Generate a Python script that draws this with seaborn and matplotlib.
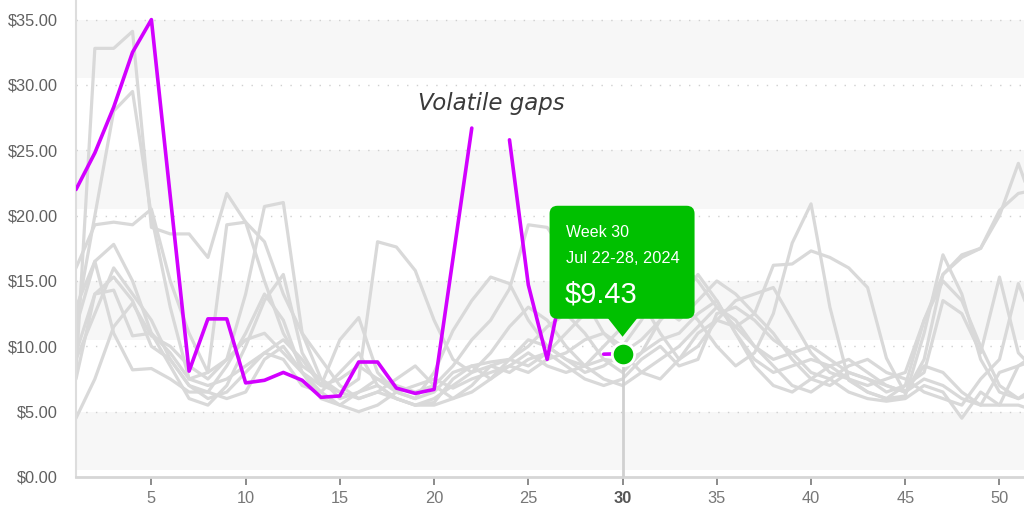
import numpy as np
import pandas as pd
import matplotlib
matplotlib.use("Agg")
import matplotlib.pyplot as plt
import seaborn as sns
from matplotlib.patches import FancyBboxPatch, Polygon
from matplotlib.transforms import IdentityTransform

# ---------------- data ----------------
weeks = list(range(1, 53))

current_year = [22.0, 24.8, 28.3, 32.5, 35.0, 21.5, 8.1, 12.1, 12.1, 7.2,
                7.4, 8.0, 7.4, 6.1, 6.2, 8.8, 8.8, 6.8, 6.4, 6.7,
                16.7, 26.7, np.nan, 25.8, 14.7, 9.0, 16.0, np.nan, 9.4, 9.43]

past_1 = [8.0, 32.8, 32.8, 34.1, 19.1, 18.6, 18.6, 16.8, 21.7, 19.5, 15.0, 11.0, 8.5,
          7.5, 6.0, 6.5, 7.5, 7.0, 6.5, 7.0, 8.5, 10.5, 12.0, 14.4, 19.3, 19.1,
          17.0, 13.5, 11.0, 10.0, 12.0, 14.5, 16.5, 15.0, 13.0, 11.5, 12.5, 16.2,
          16.3, 17.3, 16.8, 16.0, 14.5, 9.1, 6.4, 9.0, 15.5, 16.8, 17.5, 20.4, 21.7, 22.0]
past_2 = [12.0, 20.0, 28.0, 29.5, 20.0, 13.0, 7.5, 8.0, 19.3, 19.5, 18.0, 14.0, 11.0,
          9.0, 7.0, 6.0, 6.5, 6.0, 5.5, 5.7, 7.5, 8.5, 8.8, 9.0, 10.0, 11.5,
          12.5, 11.0, 9.0, 8.0, 9.5, 12.0, 13.5, 12.0, 10.0, 8.5, 9.5, 12.5,
          17.9, 20.9, 13.0, 7.4, 6.5, 6.0, 6.2, 11.0, 17.0, 14.0, 9.0, 6.5, 6.0, 7.0]
past_3 = [16.0, 19.3, 19.5, 19.3, 20.5, 15.0, 11.0, 8.0, 9.0, 14.0, 20.7, 21.0, 11.0,
          7.5, 6.5, 7.5, 18.0, 17.6, 15.8, 12.0, 9.0, 8.0, 8.5, 9.0, 8.5, 9.5,
          11.0, 12.5, 14.5, 16.0, 13.5, 11.0, 9.0, 10.0, 12.0, 13.5, 14.0, 14.5,
          12.0, 9.5, 8.0, 7.5, 7.0, 7.5, 8.0, 12.0, 15.0, 13.5, 10.0, 7.0, 6.0, 6.5]
past_4 = [11.5, 16.5, 17.8, 15.0, 11.0, 8.5, 6.0, 5.5, 7.0, 10.0, 13.5, 15.5, 9.5,
          7.0, 10.5, 12.2, 8.0, 6.5, 6.0, 8.0, 11.2, 13.5, 15.3, 14.8, 12.0, 10.0,
          9.0, 8.5, 10.0, 11.5, 12.5, 13.0, 12.0, 13.5, 15.0, 14.0, 12.5, 11.0,
          9.0, 7.5, 7.0, 8.0, 7.5, 6.5, 7.0, 8.0, 13.5, 12.5, 9.5, 15.3, 9.5, 8.0]
past_5 = [9.5, 14.0, 15.3, 13.5, 10.0, 9.0, 7.0, 6.5, 8.5, 11.0, 14.0, 12.0, 8.0,
          6.5, 8.0, 9.5, 7.0, 6.0, 5.5, 6.0, 7.0, 8.0, 9.5, 11.5, 13.0, 12.0,
          10.0, 8.5, 7.5, 7.0, 8.0, 9.0, 10.0, 11.5, 13.0, 12.0, 10.0, 8.5,
          7.0, 6.5, 7.5, 8.5, 9.0, 8.0, 7.5, 6.5, 6.0, 5.5, 7.5, 9.0, 14.8, 11.0]
past_6 = [4.5, 7.5, 11.5, 13.3, 10.8, 10.0, 8.5, 7.5, 9.0, 10.5, 11.0, 9.5, 8.0,
          7.0, 7.5, 8.5, 7.5, 6.5, 7.0, 7.5, 6.8, 7.5, 8.0, 8.5, 9.5, 8.5,
          8.0, 8.5, 9.0, 8.8, 9.5, 10.5, 11.0, 12.5, 13.5, 11.0, 8.5, 7.0,
          6.5, 7.5, 8.5, 9.0, 8.0, 7.0, 6.5, 7.5, 7.0, 6.0, 5.5, 5.5, 5.5, 5.0]
past_7 = [7.5, 14.0, 14.3, 10.8, 11.0, 9.5, 7.5, 7.0, 7.5, 8.5, 9.5, 9.0, 7.0,
          6.5, 5.5, 5.0, 5.5, 6.5, 6.0, 6.5, 8.0, 8.5, 7.5, 8.5, 8.0, 9.0,
          9.5, 10.5, 11.0, 9.5, 8.0, 7.5, 9.0, 11.0, 12.0, 11.5, 10.0, 9.0,
          9.5, 10.0, 9.0, 8.0, 7.5, 7.0, 6.5, 8.5, 8.0, 6.5, 5.5, 8.0, 8.5, 9.0]
past_8 = [13.0, 16.5, 11.0, 8.2, 8.3, 7.5, 6.5, 6.5, 6.0, 6.5, 9.0, 10.0, 8.0,
          6.0, 5.5, 6.5, 7.0, 6.0, 5.5, 5.5, 6.0, 7.0, 8.5, 8.0, 9.0, 9.5,
          8.5, 7.5, 7.0, 7.5, 9.0, 10.0, 8.5, 9.0, 12.5, 13.0, 12.0, 10.5,
          9.5, 8.0, 7.5, 6.5, 6.0, 5.8, 6.0, 7.0, 6.5, 4.5, 6.5, 5.5, 8.5, 9.5]
past_9 = [9.0, 12.5, 16.0, 14.0, 12.0, 9.0, 7.0, 6.0, 6.5, 8.0, 9.5, 10.5, 9.0,
          7.0, 6.5, 6.0, 6.5, 7.5, 8.5, 7.0, 6.0, 6.5, 7.5, 9.0, 10.5, 10.0,
          9.0, 8.0, 8.5, 9.5, 10.5, 12.0, 13.5, 15.5, 13.5, 11.0, 9.0, 8.0,
          8.5, 9.0, 8.5, 7.5, 6.5, 6.0, 7.0, 12.0, 15.5, 17.0, 17.5, 20.0, 24.0, 20.0]

past_years = [past_1, past_2, past_3, past_4, past_5, past_6, past_7, past_8, past_9]

y_ticks = [0, 5, 10, 15, 20, 25, 30, 35]
x_ticks = [5, 10, 15, 20, 25, 30, 35, 40, 45, 50]

highlight_week = 30
highlight_value = 9.43
tooltip_week = "Week 30"
tooltip_dates = "Jul 22-28, 2024"
tooltip_price = "$9.43"
note_text = "Volatile gaps"

# ---------------- styling ----------------
sns.set_theme(style="white")
plt.rcParams["font.family"] = ["Liberation Sans", "DejaVu Sans"]

GREY_LINE = "#d9d9d9"
MAGENTA = "#d200ff"
GREEN = "#00c000"
BAND = "#f7f7f7"

fig = plt.figure(figsize=(10.24, 5.15), dpi=100)
ax = fig.add_axes([76 / 1024, 1 - 477 / 515, 1 - 76 / 1024, 477 / 515])
ax.set_facecolor("white")

# background bands
for t in y_ticks[1:]:
    if t % 10 == 5:
        ax.axhspan(t - 4.5, t, color=BAND, zorder=0, lw=0)

# dotted grid
for t in y_ticks[1:]:
    ax.axhline(t, color="#cfcfcf", lw=1.0, ls=(0, (1, 6)), zorder=0.5)

# past years (grey)
rows = []
for i, s in enumerate(past_years):
    for w, v in zip(weeks, s):
        rows.append({"week": w, "price": v, "year": f"y{i}"})
df_past = pd.DataFrame(rows)
sns.lineplot(data=df_past, x="week", y="price", units="year", estimator=None,
             color=GREY_LINE, lw=2.3, ax=ax, zorder=2, legend=False)

# current year with gaps (split into contiguous segments)
cur = pd.DataFrame({"week": weeks[:len(current_year)], "price": current_year})
cur["seg"] = cur["price"].isna().cumsum()
cur = cur.dropna()
sns.lineplot(data=cur, x="week", y="price", units="seg", estimator=None,
             color=MAGENTA, lw=2.6, ax=ax, zorder=3, legend=False)

# limits & axes
ax.set_xlim(1, 51.3)
ax.set_ylim(0, 36.5)
ax.set_xticks(x_ticks)
ax.set_yticks(y_ticks)
ax.set_yticklabels([f"${t:.2f}" for t in y_ticks])
ax.set_xlabel("")
ax.set_ylabel("")
for side in ["top", "right"]:
    ax.spines[side].set_visible(False)
ax.spines["left"].set_color("#dddddd")
ax.spines["left"].set_linewidth(1.5)
ax.spines["bottom"].set_color("#d6d6d6")
ax.spines["bottom"].set_linewidth(2)
ax.tick_params(axis="y", length=0, pad=13, labelsize=11.8, labelcolor="#606060")
ax.tick_params(axis="x", length=6, width=1.2, color="#777777", pad=4,
               labelsize=11.8, labelcolor="#777777", bottom=True)
for lbl in ax.get_xticklabels():
    if lbl.get_text() == str(highlight_week):
        lbl.set_fontweight("bold")
        lbl.set_color("#555555")

# highlight marker and drop line
ax.vlines(highlight_week, 0, highlight_value, color="#d0d0d0", lw=2, zorder=4)
sns.scatterplot(x=[highlight_week], y=[highlight_value], s=260, color=GREEN,
                edgecolor="white", linewidth=2, ax=ax, zorder=6, legend=False)

# tooltip anchored to the highlighted point (display pixel offsets)
px, py = ax.transData.transform((highlight_week, highlight_value))
box = FancyBboxPatch((px - 73, py + 35), 145, 113,
                     boxstyle="round,pad=0,rounding_size=8",
                     transform=IdentityTransform(), facecolor=GREEN,
                     edgecolor="none", zorder=7, clip_on=False)
ax.add_patch(box)
box.set_transform(IdentityTransform())
tri = Polygon([(px - 15, py + 36), (px + 15, py + 36), (px, py + 17)],
              closed=True, facecolor=GREEN, edgecolor="none", zorder=7,
              clip_on=False)
ax.add_patch(tri)
tri.set_transform(IdentityTransform())

ax.annotate(tooltip_week, (highlight_week, highlight_value), xycoords="data",
            textcoords="offset pixels", xytext=(-57, 121), ha="left", va="center",
            color="white", fontsize=11.5, zorder=9)
ax.annotate(tooltip_dates, (highlight_week, highlight_value), xycoords="data",
            textcoords="offset pixels", xytext=(-57, 95), ha="left", va="center",
            color="white", fontsize=11.8, zorder=9)
ax.annotate(tooltip_price, (highlight_week, highlight_value), xycoords="data",
            textcoords="offset pixels", xytext=(-58, 59), ha="left", va="center",
            color="white", fontsize=21, zorder=9)

# handwritten-style note
ax.text(23.05, 28.6, note_text, ha="center", va="center", fontsize=16.5,
        style="italic", color="#3a3a3a", family=["DejaVu Sans"], zorder=5)

fig.savefig("out.png", dpi=100)
